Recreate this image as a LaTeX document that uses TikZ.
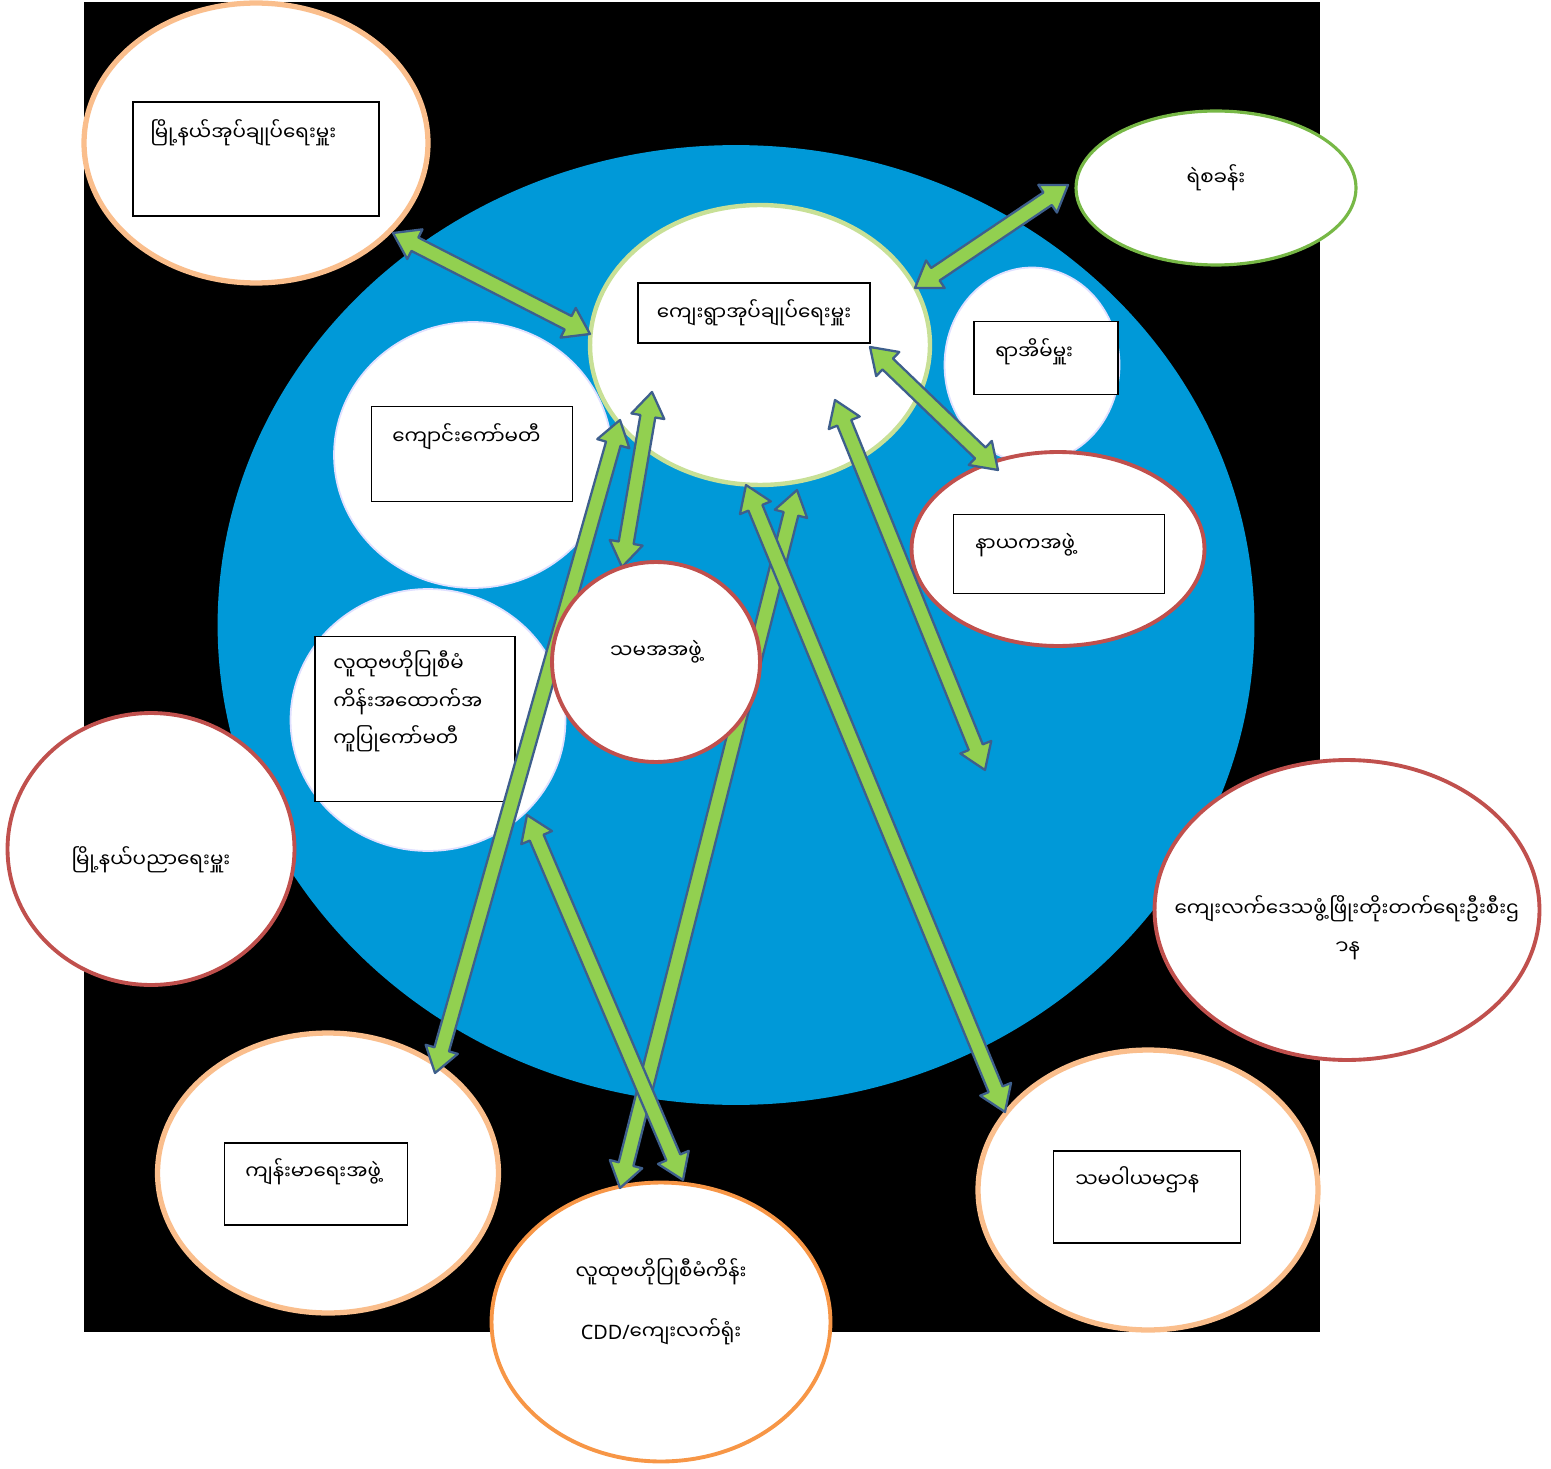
\documentclass[tikz,border=0pt]{standalone}
\usepackage{fontspec}
\setmainfont{Noto Sans}
\newfontfamily\mmfont[Script=Myanmar]{Noto Sans Myanmar UI}
\usetikzlibrary{calc, shapes.geometric}

\definecolor{bgblue}{RGB}{0,153,216}
\definecolor{arrowgreen}{RGB}{146,208,80}
\definecolor{arrowedge}{RGB}{62,95,140}
\definecolor{redring}{RGB}{192,80,77}
\definecolor{orangering}{RGB}{247,150,70}
\definecolor{softorange}{RGB}{250,190,140}
\definecolor{greenring}{RGB}{119,184,70}
\definecolor{palegreen}{RGB}{200,224,150}

% two-headed block arrow between two named points
\newcommand{\biarrow}[2]{%
  \filldraw[arrowbody] (#1)
    -- ($(#1)!14pt!(#2)!9.5pt!90:(#2)$)
    -- ($(#1)!14pt!(#2)!4.3pt!90:(#2)$)
    -- ($(#2)!14pt!(#1)!4.3pt!-90:(#1)$)
    -- ($(#2)!14pt!(#1)!9.5pt!-90:(#1)$)
    -- (#2)
    -- ($(#2)!14pt!(#1)!9.5pt!90:(#1)$)
    -- ($(#2)!14pt!(#1)!4.3pt!90:(#1)$)
    -- ($(#1)!14pt!(#2)!4.3pt!-90:(#2)$)
    -- ($(#1)!14pt!(#2)!9.5pt!-90:(#2)$)
    -- cycle;}

\begin{document}
\begin{tikzpicture}[x=0.02cm, y=-0.02cm,
  bubble/.style={ellipse, fill=white, inner sep=0pt},
  redbubble/.style={bubble, draw=redring, line width=2.2pt},
  softbubble/.style={bubble, draw=softorange, line width=3pt},
  paleb/.style={bubble, draw=blue!12, line width=1pt},
  box/.style={draw=black, line width=0.7pt, fill=white, inner sep=0pt},
  lbl/.style={font=\mmfont\fontsize{11.3}{21.5}\selectfont, inner sep=0pt, align=left},
  arrowbody/.style={fill=arrowgreen, draw=arrowedge, line width=1.3pt, line join=round}]

\useasboundingbox (0,0) rectangle (1551,1469);
\fill[black] (84,2) rectangle (1320,1332);
\node[ellipse, fill=bgblue, minimum width=20.74cm, minimum height=19.2cm] (field) at (736,625) {};

% bubbles inside the field
\node[paleb, minimum width=3.5cm, minimum height=3.9cm] (yae) at (1032,365) {};
\node[paleb, minimum width=5.56cm, minimum height=5.32cm] (sch) at (473,455) {};
\node[paleb, minimum width=5.5cm, minimum height=5.24cm] (com) at (428,720) {};
\node[bubble, draw=palegreen, line width=2.5pt, minimum width=6.8cm, minimum height=5.6cm] (vta) at (760,345) {};
\node[redbubble, minimum width=5.86cm, minimum height=3.88cm] (nay) at (1058,549) {};

% bubbles round the outside
\node[softbubble, minimum width=6.88cm, minimum height=5.6cm] (mna) at (256,143) {};
\node[bubble, draw=greenring, line width=1.8pt, minimum width=5.6cm, minimum height=3.08cm] (pol) at (1216,188) {};
\node[redbubble, minimum width=5.74cm, minimum height=5.44cm] (edu) at (151,849) {};
\node[redbubble, minimum width=7.7cm, minimum height=6cm] (rdd) at (1347,910) {};
\node[softbubble, minimum width=6.82cm, minimum height=5.6cm] (hea) at (328,1173) {};
\node[softbubble, minimum width=6.8cm, minimum height=5.6cm] (coop) at (1148,1190) {};
\node[bubble, draw=orangering, line width=2.2pt, minimum width=6.78cm, minimum height=5.58cm] (cdd) at (661,1322) {};

% boxes and their texts
\node[box, minimum width=4.92cm, minimum height=2.28cm] (mna-b) at (256,159) {};
\node[lbl, anchor=west] (mna-t) at (150,133) {မြို့နယ်အုပ်ချုပ်ရေးမှူး};
\node[box, minimum width=4.64cm, minimum height=1.2cm] (vta-b) at (754,313) {};
\node[lbl] (vta-t) at (vta-b) {ကျေးရွာအုပ်ချုပ်ရေးမှူး};
\node[box, minimum width=2.88cm, minimum height=1.46cm] (yae-b) at (1046,358) {};
\node[lbl, anchor=west] (yae-t) at (995,352) {ရာအိမ်မှူး};
\node[box, minimum width=4.02cm, minimum height=1.9cm] (sch-b) at (472,454) {};
\node[lbl, anchor=west] (sch-t) at (392,437) {ကျောင်းကော်မတီ};
\node[box, minimum width=4.22cm, minimum height=1.58cm] (nay-b) at (1059,554) {};
\node[lbl, anchor=west] (nay-t) at (975,545) {နာယကအဖွဲ့};
\node[box, minimum width=4cm, minimum height=3.3cm] (com-b) at (415,719) {};
\node[lbl, anchor=north west] (com-t) at (333,650) {လူထုဗဟိုပြုစီမံ\\ကိန်းအထောက်အ\\ကူပြုကော်မတီ};
\node[box, minimum width=3.66cm, minimum height=1.64cm] (hea-b) at (316,1184) {};
\node[lbl, anchor=west] (hea-t) at (245,1172) {ကျန်းမာရေးအဖွဲ့};
\node[box, minimum width=3.74cm, minimum height=1.84cm] (coop-b) at (1147,1197) {};
\node[lbl, anchor=west] (coop-t) at (1075,1180) {သမဝါယမဌာန};

% texts straight in the bubbles
\node[lbl] (pol-t) at (1216,178) {ရဲစခန်း};
\node[lbl] (edu-t) at (151,860) {မြို့နယ်ပညာရေးမှူး};
\node[lbl, align=center] (rdd-t) at (1347,928) {ကျေးလက်ဒေသဖွံ့ဖြိုးတိုးတက်ရေးဦးစီးဌ\\\char"00A0ာန};
\node[lbl] (cdd-t1) at (661,1272) {လူထုဗဟိုပြုစီမံကိန်း};
\node[lbl] (cdd-t2) at (661,1332) {{\rmfamily CDD/}ကျေးလက်ရုံး};

% arrow ends
\coordinate (a1s) at (393,233); \coordinate (a1e) at (590,334);
\coordinate (a2s) at (915,288); \coordinate (a2e) at (1068,185);
\coordinate (a3s) at (870,347); \coordinate (a3e) at (998,470);
\coordinate (a4s) at (652,392); \coordinate (a4e) at (622,567);
\coordinate (a5s) at (620,420); \coordinate (a5e) at (435,1073);
\coordinate (a6s) at (797,490); \coordinate (a6e) at (620,1188);
\coordinate (a7s) at (746,485); \coordinate (a7e) at (1005,1112);
\coordinate (a8s) at (835,400); \coordinate (a8e) at (985,770);
\coordinate (a9s) at (527,815); \coordinate (a9e) at (683,1180);

% the links
\foreach \s/\e in {a1s/a1e, a2s/a2e, a3s/a3e, a4s/a4e, a5s/a5e, a6s/a6e, a7s/a7e, a8s/a8e, a9s/a9e}
  \biarrow{\s}{\e};

% this one lies over the links
\node[redbubble, minimum width=4.16cm, minimum height=4cm] (sma) at (656,662) {};
\node[lbl] (sma-t) at (656,652) {သမအအဖွဲ့};

\end{tikzpicture}
\end{document}
